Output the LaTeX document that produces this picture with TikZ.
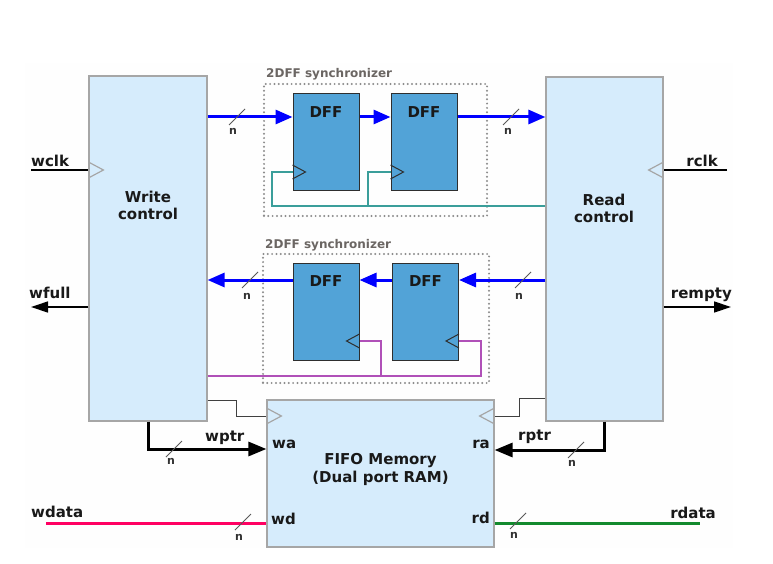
\documentclass[tikz,border=0pt]{standalone}
\usepackage{fontspec}
\setmainfont{DejaVu Sans}
\usetikzlibrary{arrows.meta}
\definecolor{bgfill}{HTML}{FEFEFE}
\definecolor{boxfill}{HTML}{D6ECFC}
\definecolor{boxline}{HTML}{A6A6A6}
\definecolor{dfffill}{HTML}{52A3D7}
\definecolor{dffline}{HTML}{2E2E2E}
\definecolor{busblue}{HTML}{0000FF}
\definecolor{tealclk}{HTML}{3A9E9A}
\definecolor{purpclk}{HTML}{B050B8}
\definecolor{pinkbus}{HTML}{FF0062}
\definecolor{greenbus}{HTML}{138A2E}
\definecolor{synclbl}{HTML}{6B6663}
\definecolor{syncdot}{HTML}{8C8C8C}
\definecolor{stepline}{HTML}{404040}
\begin{document}
\begin{tikzpicture}[x=1pt,y=-1pt,
  block/.style={draw=boxline, fill=boxfill, line width=1.2pt, inner sep=0pt},
  dff/.style={draw=dffline, fill=dfffill, line width=1pt, inner sep=0pt, minimum width=66pt, minimum height=97pt},
  syncbox/.style={draw=syncdot, line width=2.2pt, dash pattern=on 0pt off 4.3pt, line cap=round, inner sep=0pt},
  lbl/.style={font=\bfseries\fontsize{15}{17}\selectfont, inner sep=0pt, text=black!90},
  nlbl/.style={font=\bfseries\fontsize{11}{12}\selectfont, inner sep=0pt, text=black!80},
  synctxt/.style={font=\bfseries\fontsize{12}{13}\selectfont, inner sep=0pt, text=synclbl},
  bus/.style={draw=busblue, line width=3pt, -{Triangle[length=17pt,width=14pt]}},
  ptr/.style={draw=black, line width=3pt, -{Triangle[length=18pt,width=14pt]}},
  flagline/.style={draw=black, line width=1.3pt, -{Triangle[length=17pt,width=11pt]}},
  thinline/.style={draw=black, line width=1.1pt},
  stepl/.style={draw=stepline, line width=1pt},
  tealw/.style={draw=tealclk, line width=1.1pt},
  purpw/.style={draw=purpclk, line width=1.1pt},
  clkdark/.style={draw=dffline, line width=1pt},
  clkgray/.style={draw=boxline, line width=1.2pt},
  slashm/.style={draw=black!65, line width=1pt},
  pinkw/.style={draw=pinkbus, line width=3pt},
  greenw/.style={draw=greenbus, line width=3pt}
]
\useasboundingbox (0,0) rectangle (773,564);
\fill[bgfill] (25,63) rectangle (733,548);

% synchronizer frames
\node[syncbox, minimum width=223pt, minimum height=132pt] (s1) at (375.5,150) {};
\node[syncbox, minimum width=226pt, minimum height=129pt] (s2) at (376,318.5) {};
\node[synctxt, anchor=base west] (s1t) at (266,78) {2DFF synchronizer};
\node[synctxt, anchor=base west] (s2t) at (265,248) {2DFF synchronizer};

% blocks
\node[block, minimum width=118pt, minimum height=345pt] (wc) at (148,248.5) {};
\node[block, minimum width=117pt, minimum height=344pt] (rc) at (604.5,249) {};
\node[block, minimum width=227pt, minimum height=147pt] (mem) at (380.5,473.5) {};
\node[dff] (d1) at (326,142.5) {};
\node[dff] (d2) at (424,142.5) {};
\node[dff] (d3) at (326,312) {};
\node[dff] (d4) at (425.5,312) {};

% block texts
\node[lbl, align=center] (wct) at (148,205) {Write\\control};
\node[lbl, align=center] (rct) at (604,208) {Read\\control};
\node[lbl, align=center, font=\bfseries\fontsize{15}{18}\selectfont] (memt) at (380.5,469.5) {FIFO Memory\\(Dual port RAM)};
\node[lbl] (d1t) at (326,112) {DFF};
\node[lbl] (d2t) at (424,112) {DFF};
\node[lbl] (d3t) at (326,281) {DFF};
\node[lbl] (d4t) at (425.5,281) {DFF};

% helper coordinates
\coordinate (r1) at (0,117);
\coordinate (r2) at (0,280);
\coordinate (c1) at (0,172);
\coordinate (c2) at (0,341);
\coordinate (tA) at (272,206);
\coordinate (tB) at (368,206);
\coordinate (pA) at (481,376);
\coordinate (pB) at (381,376);
\coordinate (wclkL) at (31,170);
\coordinate (rclkR) at (727,170);
\coordinate (wfullL) at (31,307);
\coordinate (remptyR) at (731,307);
\coordinate (gW) at (236,400);
\coordinate (gR) at (519,398);
\coordinate (mclk) at (0,416);
\coordinate (wpA) at (0,449);
\coordinate (rpA) at (0,450);
\coordinate (wdL) at (46,523);
\coordinate (rdR) at (700,523);

% clock nets
\draw[tealw] (rc.west|-tA) -- (tA) |- (d1.west|-c1);
\draw[tealw] (tB) |- (d2.west|-c1);
\draw[purpw] (wc.east|-pA) -- (pA) |- (d4.east|-c2);
\draw[purpw] (pB) |- (d3.east|-c2);
\draw[thinline] (wclkL) -- (wc.west|-wclkL);
\draw[thinline] (rclkR) -- (rc.east|-rclkR);
\draw[stepl] (wc.east|-gW) -- (gW) |- (mem.west|-mclk);
\draw[stepl] (rc.west|-gR) -- (gR) |- (mem.east|-mclk);

% clock pin triangles
\draw[clkdark] (d1.west|-c1) ++(0,-7) -- ++(13,7) -- ++(-13,7);
\draw[clkdark] (d2.west|-c1) ++(0,-7) -- ++(13,7) -- ++(-13,7);
\draw[clkdark] (d3.east|-c2) ++(0,-7) -- ++(-13,7) -- ++(13,7);
\draw[clkdark] (d4.east|-c2) ++(0,-7) -- ++(-13,7) -- ++(13,7);
\draw[clkgray] (wc.west|-wclkL) ++(0,-8) -- ++(15,8) -- ++(-15,8);
\draw[clkgray] (rc.east|-rclkR) ++(0,-8) -- ++(-15,8) -- ++(15,8);
\draw[clkgray] (mem.west|-mclk) ++(0,-8) -- ++(15,8) -- ++(-15,8);
\draw[clkgray] (mem.east|-mclk) ++(0,-8) -- ++(-15,8) -- ++(15,8);

% buses through synchronizers
\draw[bus] (wc.east|-r1) -- (d1.west|-r1);
\draw[bus] (d1.east|-r1) -- (d2.west|-r1);
\draw[bus] (d2.east|-r1) -- (rc.west|-r1);
\draw[bus] (rc.west|-r2) -- (d4.east|-r2);
\draw[bus] (d4.west|-r2) -- (d3.east|-r2);
\draw[bus] (d3.west|-r2) -- (wc.east|-r2);

% flags
\draw[flagline] (wc.west|-wfullL) -- (wfullL);
\draw[flagline] (rc.east|-remptyR) -- (remptyR);

% pointers
\draw[ptr] (wc.south) |- (mem.west|-wpA);
\draw[ptr] (rc.south) |- (mem.east|-rpA);

% data
\draw[pinkw] (wdL) -- (mem.west|-wdL);
\draw[greenw] (mem.east|-rdR) -- (rdR);

% bus width slashes
\draw[slashm] (237,117) +(-8,8) -- +(8,-8);
\draw[slashm] (511,117) +(-8,8) -- +(8,-8);
\draw[slashm] (250,280) +(-8,8) -- +(8,-8);
\draw[slashm] (523,280) +(-8,8) -- +(8,-8);
\draw[slashm] (174,449) +(-8,8) -- +(8,-8);
\draw[slashm] (576,450) +(-8,8) -- +(8,-8);
\draw[slashm] (243,522) +(-8,8) -- +(8,-8);
\draw[slashm] (518,521) +(-8,8) -- +(8,-8);
\node[nlbl] (n1) at (233,131) {n};
\node[nlbl] (n2) at (508,131) {n};
\node[nlbl] (n3) at (247,296) {n};
\node[nlbl] (n4) at (519,296) {n};
\node[nlbl] (n5) at (171,461) {n};
\node[nlbl] (n6) at (572,463) {n};
\node[nlbl] (n7) at (239,537) {n};
\node[nlbl] (n8) at (514,535) {n};

% signal labels
\node[lbl, anchor=base west] (lwclk) at (31,167) {wclk};
\node[lbl, anchor=base east] (lrclk) at (718,167) {rclk};
\node[lbl, anchor=base west] (lwfull) at (29,298) {wfull};
\node[lbl, anchor=base east] (lrempty) at (732,298) {rempty};
\node[lbl, anchor=base west] (lwptr) at (205,441) {wptr};
\node[lbl, anchor=base west] (lrptr) at (518,440) {rptr};
\node[lbl, anchor=base west] (lwa) at (272,448) {wa};
\node[lbl, anchor=base east] (lra) at (490,448) {ra};
\node[lbl, anchor=base west] (lwd) at (271,524) {wd};
\node[lbl, anchor=base east] (lrd) at (490,523) {rd};
\node[lbl, anchor=base west] (lwdata) at (31,517) {wdata};
\node[lbl, anchor=base east] (lrdata) at (716,518) {rdata};
\end{tikzpicture}
\end{document}
